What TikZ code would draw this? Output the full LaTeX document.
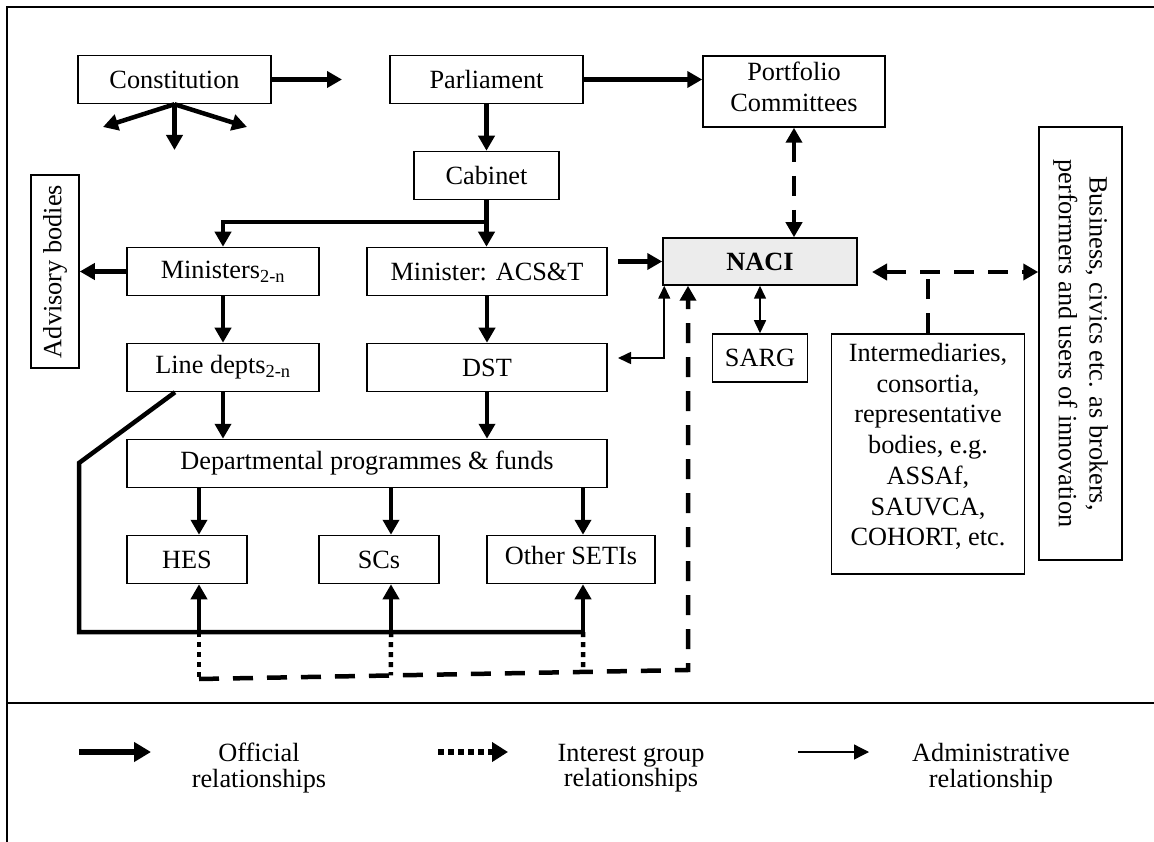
\documentclass[tikz,border=0pt]{standalone}
\usepackage{fontspec}
\setmainfont{Liberation Serif}
\usetikzlibrary{arrows.meta, calc}

\begin{document}
\begin{tikzpicture}[x=1pt, y=-1pt,
    font=\fontsize{26.3}{30.7}\selectfont,
    >={Triangle[length=15pt,width=16pt]},
    box/.style={draw, line width=1.5pt, inner sep=0pt, align=center, minimum height=48pt},
    official/.style={line width=4.5pt},
    interest/.style={line width=4.5pt, dash pattern=on 20pt off 14pt},
    dotline/.style={line width=4.5pt, dash pattern=on 5pt off 5pt},
    admin/.style={line width=1.6pt, {Triangle[length=13pt,width=12pt]}-{Triangle[length=13pt,width=12pt]}},
    legend/.style={align=center, inner sep=0pt, font=\fontsize{26.3}{25.5}\selectfont}]
    \useasboundingbox (0,0) rectangle (1154,842);
    % frame
    \draw[line width=2pt] (7,842) -- (7,7) -- (1154,7);
    \draw[line width=2pt] (7,703) -- (1154,703);

    % boxes
    \node[box, minimum width=193pt] (const) at (174.5,79.5) {Constitution};
    \node[box, minimum width=193pt] (parl) at (486.5,79.5) {Parliament};
    \node[box, minimum width=182pt, minimum height=71pt, text depth=9pt] (pc) at (794,91.5) {Portfolio\\Committees};
    \node[box, minimum width=145pt] (cab) at (486.5,175.5) {Cabinet};
    \node[box, rotate=90, minimum width=193pt] (adv) at (55,271.5) {Advisory bodies};
    \node[box, minimum width=192pt] (mins) at (223,271.5) {Ministers\textsubscript{2-n}};
    \node[box, minimum width=240pt] (minacst) at (487,271.5) {Minister: ACS\&T};
    \node[box, fill=gray!15, minimum width=194pt, minimum height=47pt] (naci) at (760,261.5) {\textbf{NACI}};
    \node[box, minimum width=95pt] (sarg) at (760,358) {SARG};
    \node[box, minimum width=193pt, minimum height=240pt, text depth=19pt] (inter) at (928,454) {Intermediaries,\\consortia,\\representative\\bodies, e.g.\\ASSAf,\\SAUVCA,\\COHORT, etc.};
    \node[box, rotate=-90, minimum width=433pt, minimum height=83pt] (biz) at (1080.5,343.5) {Business, civics etc. as brokers,\\performers and users of innovation};
    \node[box, minimum width=192pt] (line) at (223,367.5) {Line depts\textsubscript{2-n}};
    \node[box, minimum width=240pt] (dst) at (487,367.5) {DST};
    \node[box, minimum width=480pt] (dept) at (367,463.5) {Departmental programmes \& funds};
    \node[box, minimum width=120pt] (hes) at (187,559.5) {HES};
    \node[box, minimum width=120pt] (scs) at (379,559.5) {SCs};
    \node[box, minimum width=168pt, text depth=8pt] (seti) at (571,559.5) {Other SETIs};

    % free ends
    \coordinate (cright) at (342,79.5);
    \coordinate (fanl) at (103,127);
    \coordinate (fand) at (174.5,150);
    \coordinate (fanr) at (247,127);
    \coordinate (split) at (486.5,222);
    \coordinate (bend) at (79,463);
    \coordinate (base) at (79,632);
    \coordinate (lowl) at (199,679);
    \coordinate (lowr) at (688,670);
    \coordinate (nacir) at (872,272);
    \coordinate (dstr) at (618,358);
    \coordinate (hesn) at ([xshift=12pt]hes.north);
    \coordinate (hess) at ([xshift=12pt]hes.south);
    \coordinate (scsn) at ([xshift=12pt]scs.north);
    \coordinate (scss) at ([xshift=12pt]scs.south);
    \coordinate (setin) at ([xshift=12pt]seti.north);
    \coordinate (setis) at ([xshift=12pt]seti.south);

    % official relationships
    \draw[official,->] (const.east) -- (cright);
    \foreach \f in {fanl,fand,fanr}
        \draw[official,->] (const.south) -- (\f);
    \draw[official,->] (parl.east) -- (parl.east -| pc.west);
    \draw[official,->] (parl) -- (cab);
    \draw[official,->] (cab.south) -- (cab.south |- minacst.north);
    \draw[official,->] (split) -| (mins.north);
    \draw[official,->] (mins.west) -- (adv.south);
    \draw[official,->] (mins) -- (line);
    \draw[official,->] (minacst) -- (dst);
    \draw[official,->] (line) -- (line.south |- dept.north);
    \draw[official,->] (dst) -- (dst.south |- dept.north);
    \draw[official,->, shorten <=10pt] (minacst.east |- naci.west) -- (naci.west);
    \draw[official] ([xshift=-48pt]line.south) -- (bend) -- (base) -- (base -| setis);
    \foreach \b in {hes,scs,seti}{
        \draw[official,->] (dept.south -| \b n) -- (\b n);
        \draw[official,->] (\b s |- base) -- (\b s);
    }

    % interest group relationships
    \draw[interest,<->] (pc.south) -- (pc.south |- naci.north);
    \draw[interest,<->] (nacir) -- (nacir -| biz.south);
    \draw[interest] (inter.north) -- (inter.north |- nacir);
    \draw[interest,->] (lowl) -- (lowr) -- (lowr |- naci.south);
    \draw[dotline] (hess |- base) -- (lowl);
    \draw[dotline] (scss |- base) -- ($(lowl)!0.3926!(lowr)$);
    \draw[dotline] (setis |- base) -- ($(lowl)!0.7853!(lowr)$);

    % administrative relationships
    \draw[admin] (naci) -- (sarg);
    \draw[admin] (dstr) -| ([xshift=2pt]naci.south west);

    % legend
    \draw[line width=6pt, -{Triangle[length=17pt,width=19pt]}] (79,752) -- (151,752);
    \draw[line width=6pt, dash pattern=on 6pt off 4pt, -{Triangle[length=16pt,width=19pt]}] (438,752) -- (508,752);
    \draw[line width=1.3pt, -{Triangle[length=15pt,width=15pt]}] (798,752) -- (869,752);
    \node[legend] (k1) at (259,768) {Official\\relationships};
    \node[legend] (k2) at (631,768) {Interest group\\relationships};
    \node[legend] (k3) at (991,768) {Administrative\\relationship};
\end{tikzpicture}
\end{document}
